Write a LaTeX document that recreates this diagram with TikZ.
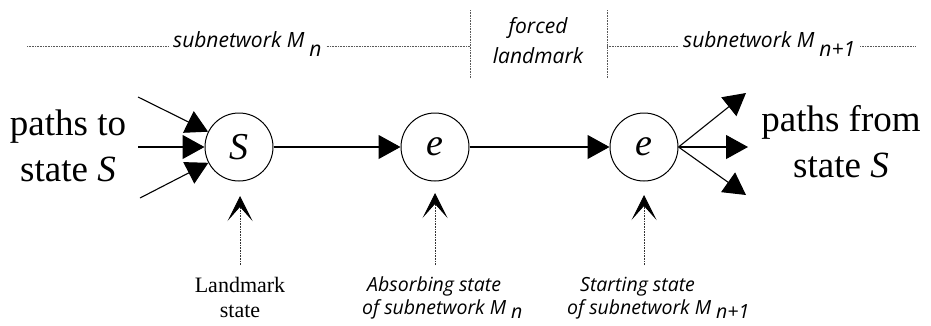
\documentclass[tikz,border=0pt]{standalone}
\usepackage{fontspec}
\setmainfont{Liberation Serif}
\newfontfamily\labfont{Open Sans}
\usetikzlibrary{arrows.meta}
\begin{document}
\begin{tikzpicture}[x=1pt,y=-1pt,
  state/.style={circle,draw,line width=1pt,minimum size=68pt,inner sep=0pt,font=\fontsize{38}{38}\selectfont\itshape},
  flow/.style={line width=1.1pt,-{Triangle[length=22pt,width=24pt]}},
  big/.style={font=\fontsize{37}{46}\selectfont,align=center,inner sep=0pt},
  toplab/.style={font=\labfont\itshape\fontsize{21}{30}\selectfont,align=center,inner sep=0pt,inner xsep=5pt},
  botlab/.style={font=\labfont\itshape\fontsize{19.5}{23}\selectfont,align=left,inner sep=0pt},
  uplab/.style={font=\fontsize{22}{25}\selectfont,align=center,inner sep=0pt},
  dots/.style={dash pattern=on 0.8pt off 0.8pt,line width=0.8pt,black!65},
  pointer/.style={dash pattern=on 0.8pt off 0.8pt,line width=0.9pt,black!80,-{Stealth[length=25pt,width=25pt,inset=14pt,black]}}
]
\useasboundingbox[fill=white] (0,0) rectangle (931,325);

% states
\node[state] (S) at (239,147) {S};
\node[state] (e1) at (435,147) {e};
\node[state] (e2) at (644,147) {e};
\draw[flow] (S) -- (e1);
\draw[flow] (e1) -- (e2);

% incoming paths
\coordinate (in1) at (138,97);
\coordinate (in2) at (138,147);
\coordinate (in3) at (140,198);
\draw[flow] (in1) -- (S);
\draw[flow] (in2) -- (S);
\draw[flow] (in3) -- (S);

% outgoing paths
\coordinate (out1) at (746,93);
\coordinate (out2) at (748,147);
\coordinate (out3) at (746,195);
\draw[flow] (e2.east) -- (out1);
\draw[flow] (e2.east) -- (out2);
\draw[flow] (e2.east) -- (out3);

% big side texts
\node[big] (pto) at (68,146) {paths to\\state \textit{S}};
\node[big] (pfrom) at (841,142) {paths from\\state \textit{S}};

% top row
\coordinate (h0) at (27,46);
\coordinate (h1) at (915,46);
\coordinate (v1t) at (470,10);
\coordinate (v1b) at (470,78);
\coordinate (v2t) at (607,10);
\coordinate (v2b) at (607,78);
\node[toplab,anchor=base west] (sub1) at (168,47) {subnetwork M\hspace{5pt}\lower9pt\hbox{n}};
\node[toplab,anchor=base west] (sub2) at (678,47) {subnetwork M\hspace{5pt}\lower9pt\hbox{n+1}};
\node[toplab] (forced) at (538,41) {forced\\landmark};
\draw[dots] (h0) -- (sub1.west |- h0);
\draw[dots] (sub1.east |- h0) -- (v1t |- h0);
\draw[dots] (v2t |- h0) -- (sub2.west |- h0);
\draw[dots] (sub2.east |- h0) -- (h1);
\draw[dots] (v1t) -- (v1b);
\draw[dots] (v2t) -- (v2b);

% bottom labels and pointers
\node[uplab,anchor=base] (lab1) at (240,317) {Landmark\\state};
\node[botlab,anchor=base west] (lab2) at (362,314) {\hspace*{5pt}Absorbing state\\of subnetwork M\hspace{5pt}\lower4pt\hbox{n}};
\node[botlab,anchor=base west] (lab3) at (567,314) {\hspace*{13pt}Starting state\\of subnetwork M\hspace{5pt}\lower4pt\hbox{n+1}};
\coordinate (t1) at (240,196);
\coordinate (t2) at (435,193);
\coordinate (t3) at (644,195);
\draw[pointer] (lab1.north |- 0,265) -- (t1);
\draw[pointer] (t2 |- 0,265) -- (t2);
\draw[pointer] (t3 |- 0,265) -- (t3);
\end{tikzpicture}
\end{document}
